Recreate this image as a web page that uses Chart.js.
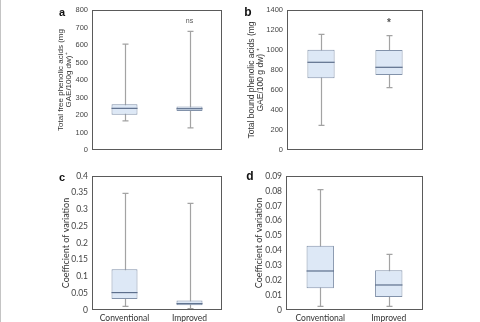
<!DOCTYPE html>
<html lang="en">
<head>
<meta charset="UTF-8">
<title>Phenolic acids - box plots</title>
<script src="https://cdn.jsdelivr.net/npm/chart.js"></script>
<style>
  html, body { margin: 0; padding: 0; width: 480px; height: 322px; background: #fff; overflow: hidden; }
  .panel { position: absolute; }
  #edge { position: absolute; left: 0; top: 0; width: 1px; height: 322px; background: #c4c4c4; }
</style>
</head>
<body>
<div id="edge"></div>
<canvas id="chartA" class="panel" width="240" height="161" style="left:0;top:0"></canvas>
<canvas id="chartB" class="panel" width="240" height="161" style="left:240px;top:0"></canvas>
<canvas id="chartC" class="panel" width="240" height="161" style="left:0;top:161px"></canvas>
<canvas id="chartD" class="panel" width="240" height="161" style="left:240px;top:161px"></canvas>

<script>
// Categories
const categories = ['Conventional', 'Improved'];

// a: total free phenolic acids (mg GAE/100 g dw)
const freeMin = [166, 126];
const freeQ1 = [202, 223];
const freeMedian = [238, 236];
const freeQ3 = [261, 248];
const freeMax = [605, 678];

// b: total bound phenolic acids (mg GAE/100 g dw)
const boundMin = [247, 623];
const boundQ1 = [717, 750];
const boundMedian = [877, 827];
const boundQ3 = [1003, 1000];
const boundMax = [1157, 1143];

// c: coefficient of variation (free)
const cvFreeMin = [0.011, 0.004];
const cvFreeQ1 = [0.033, 0.014];
const cvFreeMedian = [0.052, 0.019];
const cvFreeQ3 = [0.122, 0.028];
const cvFreeMax = [0.348, 0.318];

// d: coefficient of variation (bound)
const cvBoundMin = [0.0025, 0.0025];
const cvBoundQ1 = [0.0146, 0.0087];
const cvBoundMedian = [0.0262, 0.0168];
const cvBoundQ3 = [0.0432, 0.0267];
const cvBoundMax = [0.0808, 0.0374];

// significance marks above the improved group
const noteA = { text: 'ns', value: 735 };
const noteB = { text: '*', value: 1270 };

const boxFill = '#dde8f6';
const boxLine = '#8292aa';
const medianLine = '#5d6f8c';
const whiskerLine = '#a3a3a3';

// whiskers behind the boxes, median on top, frame round the plot
const boxParts = {
  id: 'boxParts',
  beforeDatasetsDraw(chart, args, opts) {
    const ctx = chart.ctx;
    const y = chart.scales.y;
    const bars = chart.getDatasetMeta(0).data;
    ctx.save();
    ctx.strokeStyle = whiskerLine;
    ctx.lineWidth = 1.2;
    bars.forEach((bar, i) => {
      const x = Math.round(bar.x) + 0.5;
      const top = y.getPixelForValue(opts.max[i]);
      const bottom = y.getPixelForValue(opts.min[i]);
      ctx.beginPath();
      ctx.moveTo(x, top);
      ctx.lineTo(x, bottom);
      ctx.moveTo(x - 3, top);
      ctx.lineTo(x + 3, top);
      ctx.moveTo(x - 3, bottom);
      ctx.lineTo(x + 3, bottom);
      ctx.stroke();
    });
    ctx.restore();
  },
  afterDatasetsDraw(chart, args, opts) {
    const ctx = chart.ctx;
    const y = chart.scales.y;
    const x = chart.scales.x;
    const bars = chart.getDatasetMeta(0).data;
    ctx.save();
    ctx.strokeStyle = medianLine;
    ctx.lineWidth = 1.2;
    bars.forEach((bar, i) => {
      const my = y.getPixelForValue(opts.median[i]);
      ctx.beginPath();
      ctx.moveTo(bar.x - bar.width / 2, my);
      ctx.lineTo(bar.x + bar.width / 2, my);
      ctx.stroke();
    });
    ctx.textAlign = 'center';
    ctx.textBaseline = 'middle';
    if (opts.note) {
      ctx.fillStyle = '#555';
      ctx.font = opts.note.text === '*' ? 'bold 10px "Liberation Sans"' : '7px "Liberation Sans"';
      ctx.fillText(opts.note.text, x.getPixelForValue(1), y.getPixelForValue(opts.note.value));
    }
    // frame
    const a = chart.chartArea;
    ctx.strokeStyle = '#5a5a5a';
    ctx.lineWidth = 1;
    ctx.strokeRect(Math.round(a.left) + 0.5, Math.round(a.top) + 0.5,
      Math.round(a.right - a.left) - 1, Math.round(a.bottom - a.top) - 1);
    // panel letter
    ctx.fillStyle = '#111';
    ctx.font = 'bold ' + opts.letter.size + 'px "Liberation Sans"';
    ctx.fillText(opts.letter.text, opts.letter.x, opts.letter.y);
    ctx.restore();
  }
};

function fmt(v) {
  return String(+v.toFixed(4));
}

function boxPanel(id, s) {
  const boxes = s.q1.map((q, i) => [q, s.q3[i]]);
  return new Chart(document.getElementById(id), {
    type: 'bar',
    data: {
      labels: categories,
      datasets: [{
        data: boxes,
        backgroundColor: boxFill,
        borderColor: boxLine,
        borderWidth: 1,
        borderSkipped: false,
        barPercentage: 0.4,
        categoryPercentage: 1
      }]
    },
    options: {
      responsive: false,
      animation: false,
      events: [],
      layout: { padding: { top: s.top, right: s.right, left: 0, bottom: 0 } },
      plugins: {
        legend: { display: false },
        tooltip: { enabled: false },
        boxParts: { min: s.min, median: s.median, max: s.max, note: s.note, letter: s.letter }
      },
      scales: {
        x: {
          grid: { display: false, drawTicks: false },
          border: { display: false },
          ticks: {
            display: s.xLabels,
            padding: 3,
            color: '#333',
            font: { family: 'Lato', size: 8.5 }
          },
          afterFit(scale) {
            scale.height = s.xHeight;
            scale.paddingLeft = 0;
            scale.paddingRight = 0;
          }
        },
        y: {
          min: 0,
          max: s.yMax,
          grid: { display: false, drawTicks: false },
          border: { display: false },
          ticks: {
            stepSize: s.step,
            padding: 4,
            color: '#444',
            font: s.tickFont,
            callback: fmt
          },
          title: {
            display: true,
            text: s.title,
            color: '#333',
            font: s.titleFont,
            padding: { top: s.titlePad, bottom: 0 }
          },
          afterFit(scale) {
            scale.width = s.yWidth;
            scale.paddingTop = 0;
            scale.paddingBottom = 0;
          }
        }
      }
    },
    plugins: [boxParts]
  });
}

const arialTicks = { family: 'Liberation Sans', size: 7.5 };
const latoTicks = { family: 'Lato', size: 8.5 };

boxPanel('chartA', {
  min: freeMin, q1: freeQ1, median: freeMedian, q3: freeQ3, max: freeMax,
  yMax: 800, step: 100, top: 10, right: 18, yWidth: 92, xHeight: 11, xLabels: false,
  tickFont: arialTicks,
  title: ['Total free phenolic acids (mg', 'GAE/100g dw)\u207A'],
  titleFont: { family: 'Liberation Sans', size: 8, lineHeight: 1.1 },
  titlePad: 56,
  note: noteA,
  letter: { text: 'a', x: 62, y: 13, size: 11 }
});

boxPanel('chartB', {
  min: boundMin, q1: boundQ1, median: boundMedian, q3: boundQ3, max: boundMax,
  yMax: 1400, step: 200, top: 10, right: 57, yWidth: 47, xHeight: 11, xLabels: false,
  tickFont: arialTicks,
  title: ['Total bound phenolic acids (mg', 'GAE/100 g dw) \u207A'],
  titleFont: { family: 'Liberation Sans', size: 8.5, lineHeight: 1.05 },
  titlePad: 7,
  note: noteB,
  letter: { text: 'b', x: 8, y: 13, size: 12 }
});

boxPanel('chartC', {
  min: cvFreeMin, q1: cvFreeQ1, median: cvFreeMedian, q3: cvFreeQ3, max: cvFreeMax,
  yMax: 0.4, step: 0.05, top: 15, right: 18, yWidth: 92, xHeight: 12, xLabels: true,
  tickFont: latoTicks,
  title: 'Coefficient of variation',
  titleFont: { family: 'Lato', size: 9, lineHeight: 1 },
  titlePad: 62,
  note: null,
  letter: { text: 'c', x: 62, y: 17, size: 11 }
});

boxPanel('chartD', {
  min: cvBoundMin, q1: cvBoundQ1, median: cvBoundMedian, q3: cvBoundQ3, max: cvBoundMax,
  yMax: 0.09, step: 0.01, top: 15, right: 57, yWidth: 46, xHeight: 12, xLabels: true,
  tickFont: latoTicks,
  title: 'Coefficient of variation',
  titleFont: { family: 'Lato', size: 9, lineHeight: 1 },
  titlePad: 15,
  note: null,
  letter: { text: 'd', x: 10, y: 16, size: 12 }
});
</script>
</body>
</html>
